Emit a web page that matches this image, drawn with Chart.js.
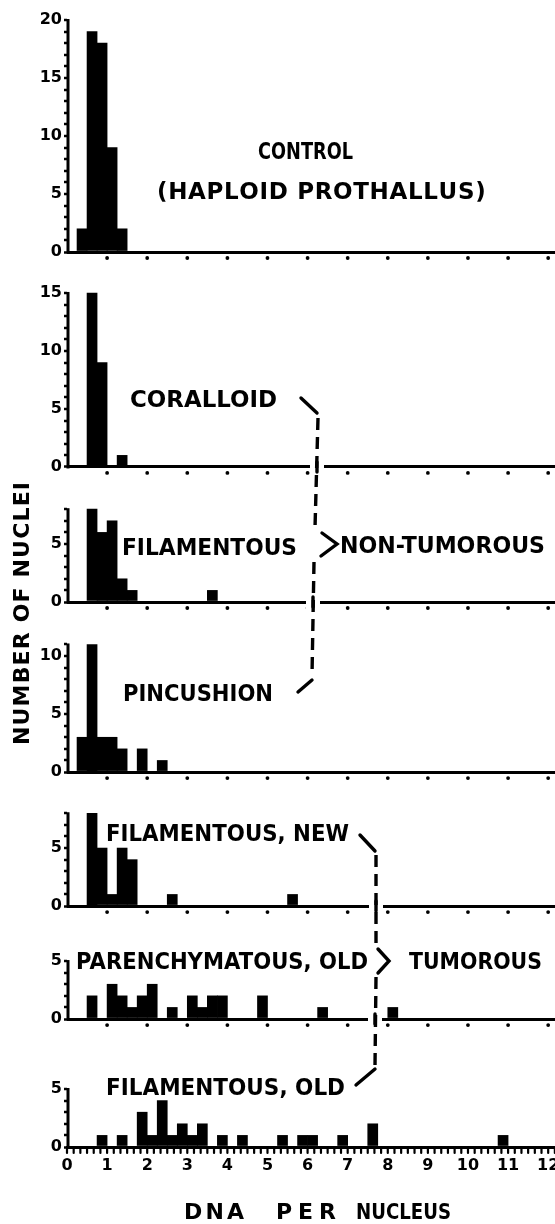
<!DOCTYPE html>
<html>
<head>
<meta charset="utf-8">
<title>DNA per nucleus</title>
<script src="https://cdn.jsdelivr.net/npm/chart.js@4.4.1/dist/chart.umd.min.js"></script>
<style>
    html, body { margin: 0; padding: 0; background: #fff; }
    #dna-chart { display: block; }
</style>
</head>
<body>
<canvas id="dna-chart" width="555" height="1224"></canvas>
<script>
// DNA per nucleus: bin centres (bins are 0.25 wide), and number of nuclei per bin
const controlDna = [0.375, 0.625, 0.875, 1.125, 1.375];
const controlCount = [2, 19, 18, 9, 2];

const coralloidDna = [0.625, 0.875, 1.375];
const coralloidCount = [15, 9, 1];

const filamentousDna = [0.625, 0.875, 1.125, 1.375, 1.625, 3.625];
const filamentousCount = [8, 6, 7, 2, 1, 1];

const pincushionDna = [0.375, 0.625, 0.875, 1.125, 1.375, 1.875, 2.375];
const pincushionCount = [3, 11, 3, 3, 2, 2, 1];

const filNewDna = [0.625, 0.875, 1.125, 1.375, 1.625, 2.625, 5.625];
const filNewCount = [8, 5, 1, 5, 4, 1, 1];

const parenOldDna = [0.625, 1.125, 1.375, 1.625, 1.875, 2.125, 2.625, 3.125, 3.375, 3.625, 3.875, 4.875, 6.375, 8.125];
const parenOldCount = [2, 3, 2, 1, 2, 3, 1, 2, 1, 2, 2, 2, 1, 1];

const filOldDna = [0.875, 1.375, 1.875, 2.125, 2.375, 2.625, 2.875, 3.125, 3.375, 3.875, 4.375, 5.375, 5.875, 6.125, 6.875, 7.625, 10.875];
const filOldCount = [1, 1, 3, 1, 4, 1, 2, 1, 2, 1, 1, 1, 1, 1, 1, 2, 1];

// tick labels
const xTickValues = [0, 1, 2, 3, 4, 5, 6, 7, 8, 9, 10, 11, 12];
const yLabelStep = 5;

const FONT = '"DejaVu Sans", "Liberation Sans", Arial, sans-serif';

// top: highest tick on the panel axis, room: axis range incl. the gap above it
const panels = [
    { id: 'p1', dna: controlDna, count: controlCount, top: 20, room: 20 },
    { id: 'p2', dna: coralloidDna, count: coralloidCount, top: 15, room: 18.53 },
    { id: 'p3', dna: filamentousDna, count: filamentousCount, top: 8, room: 11.64 },
    { id: 'p4', dna: pincushionDna, count: pincushionCount, top: 11, room: 14.66 },
    { id: 'p5', dna: filNewDna, count: filNewCount, top: 8, room: 11.55 },
    { id: 'p6', dna: parenOldDna, count: parenOldCount, top: 5, room: 9.74 },
    { id: 'p7', dna: filOldDna, count: filOldCount, top: 5, room: 11.03 }
];

const datasets = panels.map(p => ({
    label: p.id,
    xAxisID: 'x',
    yAxisID: p.id,
    data: p.dna.map((d, i) => ({ x: d, y: p.count[i] })),
    backgroundColor: '#000',
    borderWidth: 0,
    grouped: false,
    barPercentage: 1,
    categoryPercentage: 1
}));

const scales = {
    x: {
        type: 'linear',
        position: 'bottom',
        offset: false,
        min: 0,
        max: 12.17,
        afterBuildTicks: s => { s.ticks = xTickValues.map(v => ({ value: v })); },
        afterFit: s => { s.height = 77; s.paddingLeft = 0; s.paddingRight = 0; },
        ticks: {
            autoSkip: false,
            maxRotation: 0,
            padding: 9,
            color: '#000',
            font: { family: FONT, size: 16, weight: 'bold' },
            callback: v => String(v)
        },
        grid: { display: false, drawTicks: false, offset: false },
        border: { display: true, color: '#000', width: 3 }
    }
};

// stacked left axes: the last one added ends up on top, so add bottom-up
panels.slice().reverse().forEach(p => {
    scales[p.id] = {
        type: 'linear',
        position: 'left',
        stack: 'panels',
        stackWeight: p.room,
        min: 0,
        max: p.room,
        afterBuildTicks: s => {
            const t = [];
            for (let v = 0; v <= p.top; v++) t.push({ value: v });
            s.ticks = t;
        },
        afterFit: s => { s.width = 67; },
        ticks: {
            autoSkip: false,
            padding: 2,
            color: '#000',
            font: { family: FONT, size: 16, weight: 'bold' },
            callback: v => (v % yLabelStep === 0 ? String(v) : '')
        },
        grid: {
            drawOnChartArea: true,
            color: c => (c.tick && c.tick.value === 0 ? '#000' : 'rgba(0,0,0,0)'),
            lineWidth: c => (c.tick && c.tick.value === 0 ? 3 : 0),
            tickLength: 3,
            tickWidth: 2.5,
            tickColor: '#000'
        },
        border: { display: false }
    };
});

/**
 * Fit a bold caption between left and right, centred on cy.
 * Too wide: squeeze it. Too narrow: spread the letters.
 */
function fitText(ctx, text, left, right, cy, size) {
    ctx.save();
    ctx.font = 'bold ' + size + 'px ' + FONT;
    ctx.textAlign = 'left';
    ctx.textBaseline = 'alphabetic';
    const target = right - left;
    const w = ctx.measureText(text).width;
    const base = cy + size * 0.36;
    if (w >= target || text.length < 2) {
        ctx.translate(left, base);
        ctx.scale(target / w, 1);
        ctx.fillText(text, 0, 0);
    } else {
        const extra = (target - w) / (text.length - 1);
        let x = left;
        for (const ch of text) {
            ctx.fillText(ch, x, base);
            x += ctx.measureText(ch).width + extra;
        }
    }
    ctx.restore();
}

function line(ctx, pts, dash) {
    ctx.save();
    if (dash) {
        ctx.setLineDash(dash);
        ctx.lineCap = 'butt';
    }
    ctx.beginPath();
    ctx.moveTo(pts[0][0], pts[0][1]);
    for (let i = 1; i < pts.length; i++) ctx.lineTo(pts[i][0], pts[i][1]);
    ctx.stroke();
    ctx.restore();
}

const captions = [
    ['CONTROL', 258, 353, 151],
    ['(HAPLOID PROTHALLUS)', 157, 484, 191],
    ['CORALLOID', 130, 277, 399],
    ['FILAMENTOUS', 122, 297, 547],
    ['NON-TUMOROUS', 340, 545, 545],
    ['PINCUSHION', 123, 273, 693],
    ['FILAMENTOUS, NEW', 106, 349, 833],
    ['PARENCHYMATOUS, OLD', 76, 368, 961],
    ['TUMOROUS', 409, 542, 961],
    ['FILAMENTOUS, OLD', 106, 345, 1087]
];

const annotations = {
    id: 'annotations',
    afterDraw(chart) {
        const ctx = chart.ctx;
        const xs = chart.scales.x;
        const left = chart.chartArea.left;
        const bottom = chart.chartArea.bottom;

        ctx.save();
        ctx.fillStyle = '#000';
        ctx.strokeStyle = '#000';

        // y axis lines and the dots under each baseline
        panels.forEach((p, idx) => {
            const ys = chart.scales[p.id];
            const y0 = ys.getPixelForValue(0);
            const yt = ys.getPixelForValue(p.top);
            ctx.fillRect(left - 0.5, yt - 1, 3, y0 - yt + 2.5);
            if (idx < panels.length - 1) {
                for (let v = 1; v <= 12; v++) {
                    ctx.beginPath();
                    ctx.arc(xs.getPixelForValue(v), y0 + 6, 1.9, 0, Math.PI * 2);
                    ctx.fill();
                }
            }
        });

        // fine ticks along the bottom axis
        ctx.lineWidth = 2.2;
        ctx.lineCap = 'round';
        for (let k = 0; k / 6 <= xs.max; k++) {
            const px = xs.getPixelForValue(k / 6);
            line(ctx, [[px, bottom + 1], [px, bottom + 6]]);
        }

        captions.forEach(c => fitText(ctx, c[0], c[1], c[2], c[3], 23));

        // axis titles
        ctx.save();
        ctx.translate(21, 613.5);
        ctx.rotate(-Math.PI / 2);
        fitText(ctx, 'NUMBER OF NUCLEI', -131.5, 131.5, 0, 22);
        ctx.restore();
        fitText(ctx, 'DNA', 184, 244, 1211, 22);
        fitText(ctx, 'PER', 276, 336, 1211, 22);
        fitText(ctx, 'NUCLEUS', 356, 451, 1211, 22);

        // break the baselines where the brackets cross them
        const gaps = [['p2', 317], ['p3', 313], ['p5', 376], ['p6', 375]];
        gaps.forEach(g => {
            const y0 = chart.scales[g[0]].getPixelForValue(0);
            ctx.fillStyle = '#fff';
            ctx.fillRect(g[1] - 7, y0 - 3, 14, 11);
            ctx.fillStyle = '#000';
            ctx.lineCap = 'round';
            ctx.lineWidth = 3.4;
            line(ctx, [[g[1], y0 - 5], [g[1], y0 + 5]]);
        });

        // brackets
        ctx.lineWidth = 3.4;
        ctx.lineCap = 'round';
        ctx.lineJoin = 'miter';
        line(ctx, [[301, 398], [317, 413]]);
        line(ctx, [[318, 418], [315, 528]], [12, 7]);
        line(ctx, [[314, 562], [312, 676]], [12, 7]);
        line(ctx, [[312, 680], [298, 692]]);
        line(ctx, [[322, 533], [337, 544], [321, 556]]);

        line(ctx, [[360, 835], [375, 851]]);
        line(ctx, [[376, 855], [376, 945]], [12, 7]);
        line(ctx, [[376, 977], [375, 1066]], [12, 7]);
        line(ctx, [[375, 1069], [356, 1085]]);
        line(ctx, [[378, 949], [389, 961], [378, 973]]);

        ctx.restore();
    }
};

new Chart(document.getElementById('dna-chart'), {
    type: 'bar',
    data: { datasets: datasets },
    options: {
        responsive: false,
        animation: false,
        devicePixelRatio: 1,
        layout: { padding: { top: 20, right: 0, bottom: 0, left: 0 } },
        plugins: {
            legend: { display: false },
            tooltip: { enabled: false }
        },
        scales: scales
    },
    plugins: [annotations]
});
</script>
</body>
</html>
